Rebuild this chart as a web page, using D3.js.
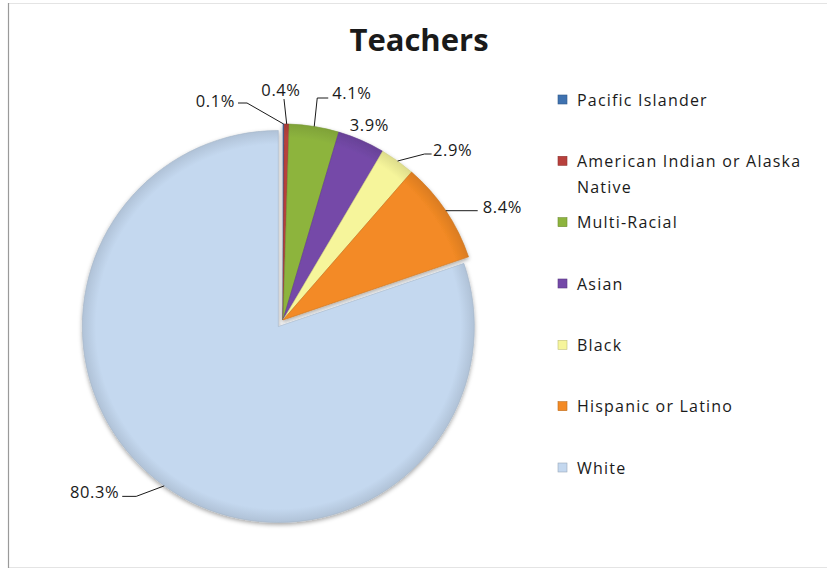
<!DOCTYPE html>
<html>
<head>
<meta charset="utf-8">
<script src="https://cdn.jsdelivr.net/npm/d3@7"></script>
<style>
  body { margin: 0; background: #ffffff; }
  svg text { font-family: "Open Sans", "DejaVu Sans", sans-serif; fill: #1a1a1a; }
</style>
</head>
<body>
<svg id="chart" width="827" height="572"></svg>
<script>
// ---- data ----
const categories = ["Pacific Islander", "American Indian or Alaska Native", "Multi-Racial",
                    "Asian", "Black", "Hispanic or Latino", "White"];
const percents = [0.1, 0.4, 4.1, 3.9, 2.9, 8.4, 80.3];
const valueLabels = ["0.1%", "0.4%", "4.1%", "3.9%", "2.9%", "8.4%", "80.3%"];
const legendLines = [["Pacific Islander"], ["American Indian or Alaska", "Native"], ["Multi-Racial"],
                     ["Asian"], ["Black"], ["Hispanic or Latino"], ["White"]];
const sliceColors = ["#3F72B0", "#B8403C", "#8DB43E", "#7449A8", "#F6F59B", "#F38A25", "#C4D8EF"];
const titleText = "Teachers";

// ---- layout ----
const W = 827, H = 572;
const cx = 283, cy = 320, radius = 196;
const explode = [0, 0, 0, 0, 0, 0, 8];   // white slice is pulled out

// leader polylines and text spots, relative to each slice's outer mid point
const labelLayout = [
  { leader: [[-36.6, -21], [-45.6, -21]], text: [-48.6, -17], anchor: "end" },
  { leader: [[-2.7, -25]],                text: [-5.7, -28],  anchor: "middle" },
  { leader: [[3, -28.5], [14, -28.5]],    text: [18, -27.5],  anchor: "start" },
  { leader: [],                           text: [-11.5, -9.4], anchor: "start" },
  { leader: [[27, -7], [34, -7]],         text: [35.3, -5],   anchor: "start" },
  { leader: [[32, 0]],                    text: [37, 2],      anchor: "start" },
  { leader: [[-28, 10.5], [-42, 10.5]],   text: [-45, 12],    anchor: "end" }
];

const svg = d3.select("#chart");
const defs = svg.append("defs");

// chart frame
svg.append("rect").attr("x", 8.5).attr("y", 3.5).attr("width", W + 20).attr("height", 564)
  .attr("fill", "#ffffff").attr("stroke", "#e4e4e4");
svg.append("line").attr("x1", 8.5).attr("x2", 8.5).attr("y1", 3).attr("y2", 568)
  .attr("stroke", "#9a9a9a").attr("stroke-width", 1.2);

// soft shadow under the pie
const shadow = defs.append("filter").attr("id", "pieShadow")
  .attr("x", "-20%").attr("y", "-20%").attr("width", "140%").attr("height", "140%");
shadow.append("feDropShadow").attr("dx", 0).attr("dy", 2).attr("stdDeviation", 2.2)
  .attr("flood-color", "#000").attr("flood-opacity", 0.35);

// title
svg.append("text").attr("x", 419).attr("y", 51).attr("text-anchor", "middle")
  .style("font-size", "31px").style("font-weight", "bold").text(titleText);

// ---- pie ----
const pie = d3.pie().sort(null).value(d => d)(percents);
const arc = d3.arc().innerRadius(0).outerRadius(radius);
const g = svg.append("g").attr("filter", "url(#pieShadow)");

function offsetOf(d, i) {
  const a = (d.startAngle + d.endAngle) / 2;
  return [Math.sin(a) * explode[i], -Math.cos(a) * explode[i]];
}

pie.forEach((d, i) => {
  const [ox, oy] = offsetOf(d, i);
  const base = d3.color(sliceColors[i]);
  // gradient lives in the slice's own (translated) coordinate space
  const grad = defs.append("radialGradient").attr("id", "grad" + i)
    .attr("gradientUnits", "userSpaceOnUse")
    .attr("cx", 0).attr("cy", 0).attr("r", radius);
  grad.append("stop").attr("offset", "0%").attr("stop-color", base);
  grad.append("stop").attr("offset", "93%").attr("stop-color", base);
  grad.append("stop").attr("offset", "100%").attr("stop-color", base.darker(0.3));

  g.append("path")
    .attr("transform", `translate(${cx + ox},${cy + oy})`)
    .attr("d", arc(d))
    .attr("fill", `url(#grad${i})`)
    .attr("stroke", base.darker(0.5))
    .attr("stroke-width", 0.6)
    .attr("stroke-linejoin", "round");
});

// ---- value labels with leader lines ----
pie.forEach((d, i) => {
  const [ox, oy] = offsetOf(d, i);
  const a = (d.startAngle + d.endAngle) / 2;
  const ex = cx + ox + Math.sin(a) * radius;
  const ey = cy + oy - Math.cos(a) * radius;
  const L = labelLayout[i];
  if (L.leader.length) {
    const pts = [[ex, ey]].concat(L.leader.map(p => [ex + p[0], ey + p[1]]));
    svg.append("path").attr("d", d3.line()(pts))
      .attr("fill", "none").attr("stroke", "#1a1a1a").attr("stroke-width", 1);
  }
  svg.append("text")
    .attr("x", ex + L.text[0]).attr("y", ey + L.text[1])
    .attr("text-anchor", L.anchor)
    .style("font-size", "16.5px")
    .style("letter-spacing", "0.6px")
    .text(valueLabels[i]);
});

// ---- legend ----
const legendY = d3.scalePoint().domain(d3.range(categories.length)).range([100, 468]);
const legend = svg.append("g");
categories.forEach((c, i) => {
  const y = legendY(i);
  const base = d3.color(sliceColors[i]);
  legend.append("rect").attr("x", 558).attr("y", y - 5).attr("width", 9).attr("height", 9)
    .attr("fill", base).attr("stroke", base.darker(0.7)).attr("stroke-width", 0.6);
  legendLines[i].forEach((line, k) => {
    legend.append("text").attr("x", 577).attr("y", y + 5.5 + k * 26)
      .style("font-size", "16px")
      .style("letter-spacing", "1.2px")
      .text(line);
  });
});
</script>
</body>
</html>
